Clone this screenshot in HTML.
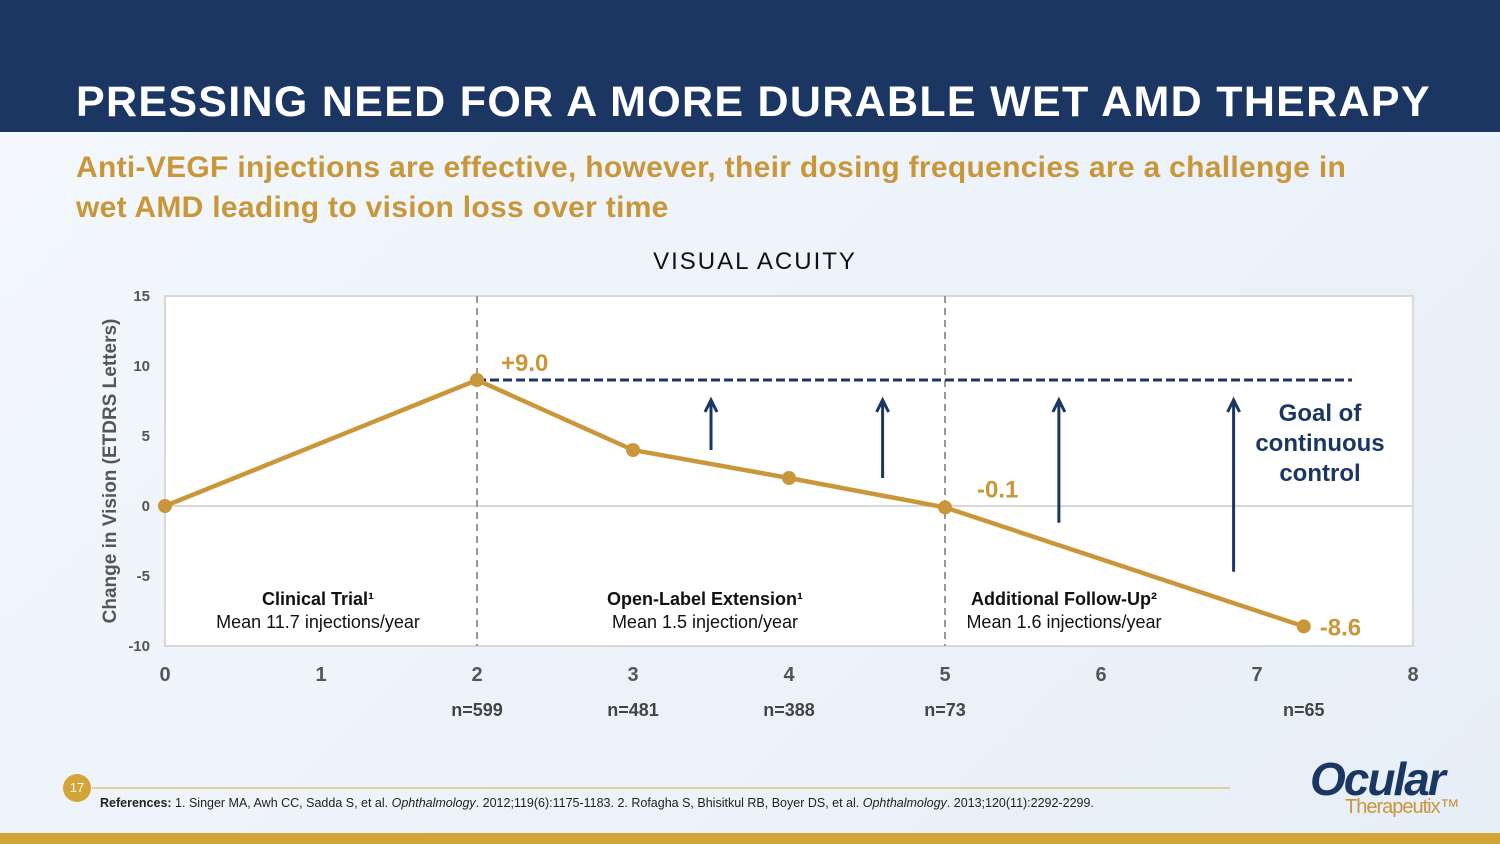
<!DOCTYPE html>
<html><head><meta charset="utf-8"><style>
body{margin:0;width:1500px;height:844px;overflow:hidden;font-family:"Liberation Sans",sans-serif;background:linear-gradient(135deg,#f4f8fc,#e6eef7);position:relative}
.hdr{position:absolute;left:0;top:0;width:1500px;height:132px;background:#1c3664}
.title{position:absolute;left:76px;top:78px;color:#fff;font-weight:bold;font-size:43px;letter-spacing:1.3px}
.sub{position:absolute;left:76px;top:148px;color:#c9973a;font-weight:bold;font-size:30px;line-height:40px;width:1300px;letter-spacing:0.3px}
.ctitle{position:absolute;left:0;width:1510px;text-align:center;top:248px;font-size:24px;letter-spacing:2px;color:#111}
.gold{position:absolute;left:0;top:833px;width:1500px;height:11px;background:#d3a437}
.refs{position:absolute;left:100px;top:796px;font-size:12.5px;color:#222}
.pg{position:absolute;left:63px;top:774px;width:28px;height:28px;border-radius:50%;background:#d3a437;color:#fff;font-size:13px;text-align:center;line-height:28px}
.line{position:absolute;left:92px;top:787px;width:1138px;height:2px;background:#e3cf9c}
.logo{position:absolute;left:1310px;top:752px;color:#1c3664;font-style:italic;font-weight:bold;font-size:46px;letter-spacing:-2px}
.logo2{position:absolute;left:1345px;top:796px;color:#c9973a;font-size:20px;letter-spacing:-1px}
</style></head><body>
<div class="hdr"></div>
<div class="title">PRESSING NEED FOR A MORE DURABLE WET AMD THERAPY</div>
<div class="sub">Anti-VEGF injections are effective, however, their dosing frequencies are a challenge in wet AMD leading to vision loss over time</div>
<div class="ctitle">VISUAL ACUITY</div>
<svg id="chart" width="1500" height="844" style="position:absolute;left:0;top:0"></svg>
<div class="pg">17</div>
<div class="line"></div>
<div class="refs"><b>References:</b> 1. Singer MA, Awh CC, Sadda S, et al. <i>Ophthalmology</i>. 2012;119(6):1175-1183. 2. Rofagha S, Bhisitkul RB, Boyer DS, et al. <i>Ophthalmology</i>. 2013;120(11):2292-2299.</div>
<div class="logo">Ocular</div>
<div class="logo2">Therapeutix™</div>
<div class="gold"></div>
<script>
const xs=[0,2,3,4,5,7.3];
const ys=[0,9,4,2,-0.1,-8.6];
const yTicks=[15,10,5,0,-5,-10];
const xTicks=[0,1,2,3,4,5,6,7,8];
const nLabels=[[2,"n=599"],[3,"n=481"],[4,"n=388"],[5,"n=73"],[7.3,"n=65"]];
const arrows=[[3.5,4],[4.6,2],[5.73,-1.2],[6.85,-4.7]];
const goal=9;
const X=v=>165+v*156, Y=v=>506-v*14;
const svg=document.getElementById('chart');const NS='http://www.w3.org/2000/svg';
function mk(t,a,txt){const e=document.createElementNS(NS,t);for(const k in a)e.setAttribute(k,a[k]);if(txt!=null)e.textContent=txt;svg.appendChild(e);return e;}
let e=mk('rect',{x:165,y:296,width:1248,height:350,fill:'#fff',stroke:'#d8d8d8','stroke-width':2});

yTicks.forEach(t=>{const l=mk('text',{x:150,y:Y(t)+5,'text-anchor':'end','font-size':15,'font-weight':'bold',fill:'#555','font-family':'Liberation Sans'},t);
});
e=mk('line',{x1:165,x2:1413,y1:Y(0),y2:Y(0),stroke:'#d8d8d8','stroke-width':2});

xTicks.forEach(t=>{const l=mk('text',{x:X(t),y:681,'text-anchor':'middle','font-size':20,'font-weight':'bold',fill:'#555','font-family':'Liberation Sans'},t);
});
nLabels.forEach(n=>{const l=mk('text',{x:X(n[0]),y:716,'text-anchor':'middle','font-size':18,'font-weight':'bold',fill:'#444','font-family':'Liberation Sans'},n[1]);
});
[2,5].forEach(v=>{const l=mk('line',{x1:X(v),x2:X(v),y1:296,y2:646,stroke:'#999','stroke-width':2,'stroke-dasharray':'7,5'});
});
e=mk('text',{x:0,y:0,transform:'translate(116,471) rotate(-90)','text-anchor':'middle','font-size':19,'font-weight':'bold',fill:'#555','font-family':'Liberation Sans'},'Change in Vision (ETDRS Letters)');

e=mk('line',{x1:X(2),x2:1352,y1:Y(goal),y2:Y(goal),stroke:'#1c3664','stroke-width':3,'stroke-dasharray':'9,4'});

arrows.forEach(a=>{const g=mk('path',{d:`M${X(a[0])} ${Y(a[1])} V${Y(goal)+22} M${X(a[0])-6} ${Y(goal)+32} L${X(a[0])} ${Y(goal)+20} L${X(a[0])+6} ${Y(goal)+32}`,stroke:'#1c3664','stroke-width':3,fill:'none'});
});
e=mk('polyline',{points:xs.map((x,i)=>X(x)+','+Y(ys[i])).join(' '),fill:'none',stroke:'#c9973a','stroke-width':4.5});

xs.forEach((x,i)=>{const c=mk('circle',{cx:X(x),cy:Y(ys[i]),r:7,fill:'#c9973a'});
});
[[X(2)+24,Y(9)-9,'+9.0'],[X(5)+32,Y(-0.1)-10,'-0.1'],[X(7.3)+16,Y(-8.6)+9,'-8.6']].forEach(d=>{const l=mk('text',{x:d[0],y:d[1],'font-size':24,'font-weight':'bold',fill:'#c9973a','font-family':'Liberation Sans'},d[2]);
});
[[318,'Clinical Trial¹','Mean 11.7 injections/year'],[705,'Open-Label Extension¹','Mean 1.5 injection/year'],[1064,'Additional Follow-Up²','Mean 1.6 injections/year']].forEach(p=>{
let a=mk('text',{x:p[0],y:605,'text-anchor':'middle','font-size':18,'font-weight':'bold',fill:'#111','font-family':'Liberation Sans'},p[1]);

let b=mk('text',{x:p[0],y:628,'text-anchor':'middle','font-size':18,fill:'#111','font-family':'Liberation Sans'},p[2]);
});
['Goal of','continuous','control'].forEach((t,i)=>{const l=mk('text',{x:1320,y:421+i*30,'text-anchor':'middle','font-size':24,'font-weight':'bold',fill:'#1c3664','font-family':'Liberation Sans'},t);
});
</script>
</body></html>
